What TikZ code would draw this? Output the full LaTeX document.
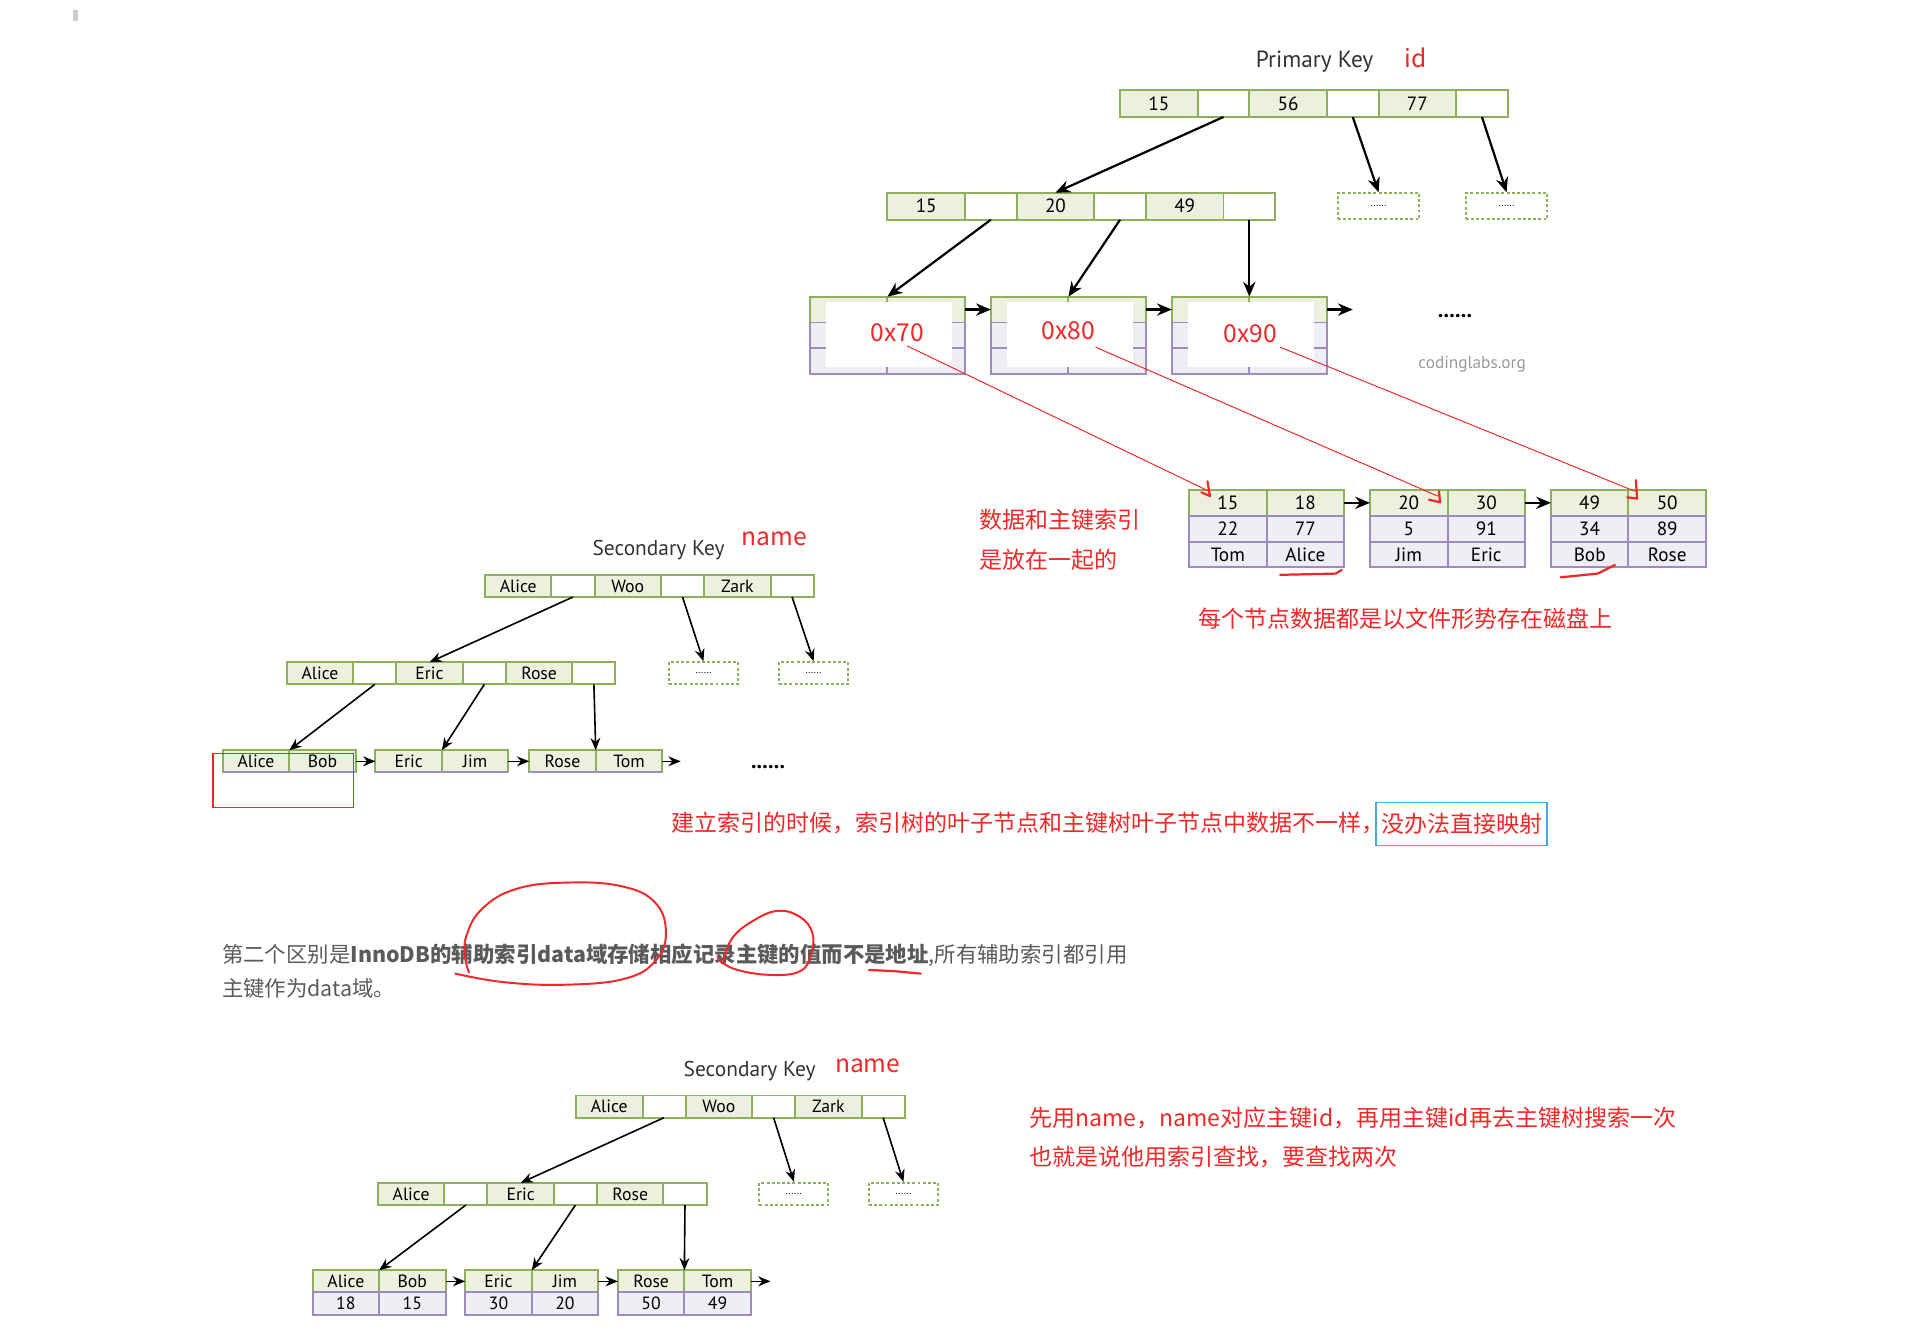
\documentclass[tikz,border=0pt]{standalone}
\usepackage{fontspec}
\setmainfont{PT Sans}
\newfontfamily\cjk{Noto Sans CJK SC}
\newfontfamily\cellf{PT Sans}
\usetikzlibrary{arrows.meta,calc}
\definecolor{gb}{HTML}{8CB15A}
\definecolor{gf}{HTML}{EBF1DE}
\definecolor{pb}{HTML}{9E8BC4}
\definecolor{pf}{HTML}{F0EEF5}
\definecolor{myred}{HTML}{F02828}
\definecolor{mygray}{HTML}{5A5A5A}
\definecolor{myblue}{HTML}{45A8E6}
\tikzset{
 cellbase/.style={rectangle, draw=gb, line width=0.8pt, inner sep=0pt, outer sep=0pt, font=\cellf\fontsize{7.8}{8}\selectfont},
 pk/.style={cellbase, fill=gf, minimum width=31.5pt, minimum height=11pt},
 pp/.style={cellbase, fill=white, minimum width=21pt, minimum height=11pt},
 sk/.style={cellbase, fill=gf, minimum width=27pt, minimum height=9pt, font=\cellf\fontsize{7.2}{8}\selectfont},
 sp/.style={cellbase, fill=white, minimum width=17.5pt, minimum height=9pt},
 spl/.style={cellbase, draw=pb, fill=pf, minimum width=27pt, minimum height=9pt, font=\cellf\fontsize{7.2}{8}\selectfont},
 gl/.style={cellbase, fill=gf, minimum width=31.5pt, minimum height=10.5pt},
 pl/.style={cellbase, draw=pb, fill=pf, minimum width=31.5pt, minimum height=10.5pt},
 dotbox/.style={rectangle, draw=gb, line width=0.8pt, dash pattern=on 1.2pt off 0.9pt, fill=white, inner sep=0pt, font=\fontsize{4}{4}\selectfont},
 pdot/.style={dotbox, minimum width=33pt, minimum height=10.5pt},
 sdot/.style={dotbox, minimum width=28pt, minimum height=9pt},
 conn/.style={-{Stealth[length=6pt,width=5pt]}, line width=0.9pt, black},
 sconn/.style={-{Stealth[length=5pt,width=4pt]}, line width=0.65pt, black},
 redline/.style={myred, line width=0.4pt},
 redpen/.style={myred, line width=0.9pt, line cap=round, line join=round},
 redtxt/.style={text=myred, font=\cjk\fontsize{10}{11}\selectfont, inner sep=0pt},
 redcjk/.style={text=myred, font=\cjk\fontsize{9.35}{10}\selectfont, inner sep=0pt},
 keylbl/.style={text=black!80, inner sep=0pt},
 bigdots/.style={font=\bfseries\fontsize{9}{9}\selectfont, inner sep=0pt},
 paratxt/.style={anchor=west, text=mygray, font=\cjk\fontsize{8.7}{10}\selectfont, inner sep=0pt},
}
\newcommand\mkrow[7]{%
 \node[#2, anchor=west] (#1a) at (#4) {#5};
 \node[#3, anchor=west] (#1b) at (#1a.east) {};
 \node[#2, anchor=west] (#1c) at (#1b.east) {#6};
 \node[#3, anchor=west] (#1d) at (#1c.east) {};
 \node[#2, anchor=west] (#1e) at (#1d.east) {#7};
 \node[#3, anchor=west] (#1f) at (#1e.east) {};
}
\newcommand\mkleaf[8]{%
 \node[gl, anchor=north west] (#1a) at (#2) {#3};
 \node[gl, anchor=north west] (#1b) at (#1a.north east) {#4};
 \node[pl, anchor=north west] (#1c) at (#1a.south west) {#5};
 \node[pl, anchor=north west] (#1d) at (#1c.north east) {#6};
 \node[pl, anchor=north west] (#1e) at (#1c.south west) {#7};
 \node[pl, anchor=north west] (#1f) at (#1e.north east) {#8};
}
\begin{document}
\begin{tikzpicture}[x=0.5pt,y=-0.5pt]
\useasboundingbox (0,0) rectangle (1568,1089);
\fill[black!20] (59,8) rectangle (63,17);

% ---------------- Primary key tree ----------------
\node[keylbl, font=\fontsize{9.5}{10}\selectfont] (pkl) at (1068,50) {Primary Key};
\node[redtxt] (pid) at (1150,47) {id};
\mkrow{P}{pk}{pp}{910,84}{15}{56}{77}
\mkrow{Q}{pk}{pp}{721,167.5}{15}{20}{49}
\node[pdot] (PX1) at (1120,167.5) {......};
\node[pdot] (PX2) at (1224,167.5) {......};
\draw[conn] (Pb.south) -- (Qc.north);
\draw[conn] (Pd.south) -- (PX1.north);
\draw[conn] (Pf.south) -- (PX2.north);

\mkleaf{La}{658,241}{}{}{}{}{}{}
\mkleaf{Lb}{805,241}{}{}{}{}{}{}
\mkleaf{Lc}{952,241}{}{}{}{}{}{}
\node[fill=white, inner sep=0pt, minimum width=51pt, minimum height=26.5pt, anchor=north west] (Wa) at (671,245) {};
\node[fill=white, inner sep=0pt, minimum width=51pt, minimum height=26.5pt, anchor=north west] (Wb) at (818,245) {};
\node[fill=white, inner sep=0pt, minimum width=51pt, minimum height=26.5pt, anchor=north west] (Wc) at (965,245) {};
\node[redtxt] (A1) at (729,270) {0x70};
\node[redtxt] (A2) at (868,269) {0x80};
\node[redtxt] (A3) at (1016,271) {0x90};
\draw[conn] (Qb.south) -- (Laa.north east);
\draw[conn] (Qd.south) -- (Lba.north east);
\draw[conn] (Qf.south) -- (Lca.north east);
\draw[conn] (Lab.east) -- (Lba.west);
\draw[conn] (Lbb.east) -- (Lca.west);
\coordinate (Lend) at (1099,251.5);
\draw[conn] (Lcb.east) -- (Lend);
\node[bigdots] (ldots) at (1182,257) {......};
\node[text=black!40, font=\fontsize{7}{8}\selectfont, inner sep=0pt] (cl) at (1196,296) {codinglabs.org};

% ---------------- data leaves ----------------
\mkleaf{Da}{966,398}{15}{18}{22}{77}{Tom}{Alice}
\mkleaf{Db}{1113,398}{20}{30}{5}{91}{Jim}{Eric}
\mkleaf{Dc}{1260,398}{49}{50}{34}{89}{Bob}{Rose}
\draw[conn] (Dab.east) -- (Dba.west);
\draw[conn] (Dbb.east) -- (Dca.west);

\coordinate (r1s) at (737,281);
\coordinate (r1e) at (982,399);
\coordinate (r2s) at (890,282);
\coordinate (r2e) at (1168,403);
\coordinate (r3s) at (1040,282);
\coordinate (r3e) at (1328,399);
\draw[redline] (r1s) -- (r1e);
\draw[redline] (r2s) -- (r2e);
\draw[redline] (r3s) -- (r3e);
\draw[redpen] (981,391) -- (983,403) -- (976,400);
\draw[redpen] (1169,399) -- (1170,408) -- (1161,406);
\draw[redpen] (1329,390) -- (1330,405) -- (1322,404);
\draw[redpen] (1040,467) -- (1085,466) -- (1090,463);
\draw[redpen] (1268,469) -- (1298,466) -- (1312,459);

\node[redcjk, anchor=west] (t1) at (795,422) {数据和主键索引};
\node[redcjk, anchor=west] (t2) at (795,455) {是放在一起的};
\node[redcjk, anchor=west] (t3) at (973,503) {每个节点数据都是以文件形势存在磁盘上};

% ---------------- Secondary key tree 1 ----------------
\node[keylbl, font=\fontsize{8.7}{9}\selectfont] (skl1) at (535,447) {Secondary Key};
\node[redtxt] (sn1) at (629,438) {name};
\mkrow{S}{sk}{sp}{394,476}{Alice}{Woo}{Zark}
\mkrow{M}{sk}{sp}{233,547}{Alice}{Eric}{Rose}
\node[sdot] (SX1) at (571.5,547) {......};
\node[sdot] (SX2) at (661,547) {......};
\node[sk, anchor=west] (Ka) at (181,618.5) {Alice};
\node[sk, anchor=west] (Kb) at (Ka.east) {Bob};
\node[sk, anchor=west] (Kc) at (305,618.5) {Eric};
\node[sk, anchor=west] (Kd) at (Kc.east) {Jim};
\node[sk, anchor=west] (Ke) at (430,618.5) {Rose};
\node[sk, anchor=west] (Kf) at (Ke.east) {Tom};
\draw[pb, line width=0.8pt] (Ka.south west) -- (Kb.south east);
\draw[pb, line width=0.8pt] (Kc.south west) -- (Kd.south east);
\draw[pb, line width=0.8pt] (Ke.south west) -- (Kf.south east);
\draw[sconn] (Sb.south) -- (Mc.north);
\draw[sconn] (Sd.south) -- (SX1.north);
\draw[sconn] (Sf.south) -- (SX2.north);
\draw[sconn] (Mb.south) -- (Ka.north east);
\draw[sconn] (Md.south) -- (Kc.north east);
\draw[sconn] (Mf.south) -- (Ke.north east);
\draw[sconn] (Kb.east) -- (Kc.west);
\draw[sconn] (Kd.east) -- (Ke.west);
\coordinate (Kend) at (553,618.5);
\draw[sconn] (Kf.east) -- (Kend);
\node[bigdots] (kdots) at (624,623) {......};
\draw[myred, line width=0.6pt] (173,612) rectangle (287,656);

\node[redcjk, anchor=west] (t4) at (545,669) {建立索引的时候，索引树的叶子节点和主键树叶子节点中数据不一样，};
\node[redcjk, draw=myblue, line width=0.6pt, minimum height=17.5pt, inner xsep=2pt] (t5) at (1187.5,669.5) {没办法直接映射};

% ---------------- paragraph ----------------
\node[paratxt] (para1) at (180,776) {第二个区别是\textbf{InnoDB的辅助索引data域存储相应记录主键的值而不是地址},所有辅助索引都引用};
\node[paratxt] (para2) at (180,803) {主键作为data域。};
\draw[redpen, line width=0.8pt] plot[smooth, tension=0.7] coordinates {(370,791) (410,798) (460,800) (508,795) (533,780) (541,757) (532,733) (505,720) (462,717) (420,722) (392,738) (379,760) (378,778) (381,790)};
\draw[redpen, line width=0.8pt] plot[smooth, tension=0.7] coordinates {(583,778) (596,787) (625,792) (650,789) (659,775) (660,758) (650,745) (632,740) (612,748) (595,762) (588,780)};
\draw[redpen] (706,788) -- (727,789) -- (748,791);

% ---------------- Secondary key tree 2 ----------------
\node[keylbl, font=\fontsize{8.7}{9}\selectfont] (skl2) at (609,870) {Secondary Key};
\node[redtxt] (sn2) at (705,866) {name};
\mkrow{U}{sk}{sp}{468,899}{Alice}{Woo}{Zark}
\mkrow{V}{sk}{sp}{307,970}{Alice}{Eric}{Rose}
\node[sdot] (UX1) at (645,970) {......};
\node[sdot] (UX2) at (734,970) {......};
\node[sk, anchor=west] (Ga) at (254,1041) {Alice};
\node[sk, anchor=west] (Gb) at (Ga.east) {Bob};
\node[sk, anchor=west] (Gc) at (378,1041) {Eric};
\node[sk, anchor=west] (Gd) at (Gc.east) {Jim};
\node[sk, anchor=west] (Ge) at (502,1041) {Rose};
\node[sk, anchor=west] (Gf) at (Ge.east) {Tom};
\node[spl, anchor=north] (Ha) at (Ga.south) {18};
\node[spl, anchor=north] (Hb) at (Gb.south) {15};
\node[spl, anchor=north] (Hc) at (Gc.south) {30};
\node[spl, anchor=north] (Hd) at (Gd.south) {20};
\node[spl, anchor=north] (He) at (Ge.south) {50};
\node[spl, anchor=north] (Hf) at (Gf.south) {49};
\draw[sconn] (Ub.south) -- (Vc.north);
\draw[sconn] (Ud.south) -- (UX1.north);
\draw[sconn] (Uf.south) -- (UX2.north);
\draw[sconn] (Vb.south) -- (Ga.north east);
\draw[sconn] (Vd.south) -- (Gc.north east);
\draw[sconn] (Vf.south) -- (Ge.north east);
\draw[sconn] (Gb.east) -- (Gc.west);
\draw[sconn] (Gd.east) -- (Ge.west);
\coordinate (Gend) at (626,1041);
\draw[sconn] (Gf.east) -- (Gend);

\node[redcjk, anchor=west] (t6) at (836,908) {先用name，name对应主键id，再用主键id再去主键树搜索一次};
\node[redcjk, anchor=west] (t7) at (836,940) {也就是说他用索引查找，要查找两次};
\end{tikzpicture}
\end{document}
